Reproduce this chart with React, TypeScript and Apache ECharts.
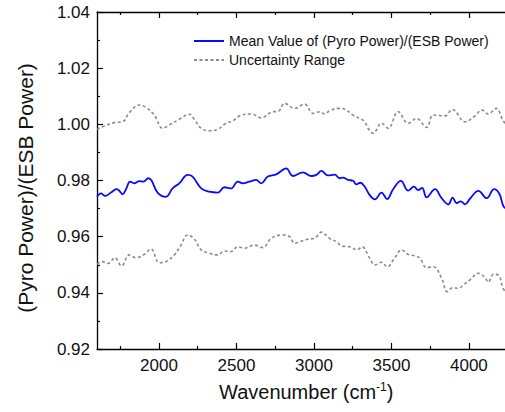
import React, { useEffect, useRef } from "react";
import * as echarts from "echarts";

const meanX = [1600, 1625, 1653, 1690, 1726, 1743, 1765, 1787, 1814, 1840, 1873, 1900, 1931, 1952, 1991, 2045, 2088, 2131, 2185, 2217, 2272, 2325, 2379, 2422, 2466, 2508, 2541, 2584, 2627, 2660, 2702, 2757, 2821, 2864, 2929, 2983, 3015, 3048, 3090, 3134, 3166, 3188, 3220, 3252, 3274, 3300, 3328, 3360, 3393, 3436, 3472, 3511, 3561, 3608, 3645, 3673, 3698, 3727, 3781, 3824, 3867, 3895, 3921, 3947, 3975, 4007, 4061, 4115, 4162, 4197, 4222, 4240];
const meanY = [0.9742, 0.9754, 0.9745, 0.9757, 0.9769, 0.9764, 0.9751, 0.9769, 0.9796, 0.979, 0.9798, 0.9796, 0.9808, 0.98, 0.9757, 0.9742, 0.9772, 0.979, 0.982, 0.9814, 0.9772, 0.976, 0.9757, 0.9776, 0.9772, 0.9796, 0.979, 0.9796, 0.9802, 0.979, 0.9814, 0.9822, 0.9843, 0.9816, 0.9829, 0.9816, 0.982, 0.9834, 0.9818, 0.9821, 0.9808, 0.981, 0.9802, 0.9799, 0.9786, 0.9792, 0.9778, 0.9748, 0.9733, 0.9757, 0.9734, 0.9769, 0.9799, 0.9764, 0.9778, 0.9766, 0.9774, 0.974, 0.9769, 0.9737, 0.9715, 0.9739, 0.9719, 0.9726, 0.9715, 0.9735, 0.9763, 0.9737, 0.9769, 0.9752, 0.9709, 0.9700];

const upperX = [1600, 1646, 1711, 1765, 1808, 1873, 1916, 1970, 2023, 2067, 2131, 2196, 2228, 2272, 2325, 2379, 2433, 2476, 2519, 2595, 2660, 2724, 2774, 2810, 2875, 2940, 2993, 3037, 3069, 3101, 3155, 3199, 3252, 3307, 3330, 3349, 3382, 3436, 3479, 3543, 3608, 3662, 3727, 3770, 3845, 3893, 3975, 4039, 4083, 4125, 4175, 4222, 4240];
const upperY = [0.9982, 0.9994, 1.0006, 1.0009, 1.0041, 1.0069, 1.006, 1.0033, 0.9986, 0.9998, 1.0018, 1.0036, 1.0018, 0.9986, 0.9977, 0.9982, 1.0004, 1.0012, 1.003, 1.0037, 1.0023, 1.0043, 1.0048, 1.0075, 1.0057, 1.0072, 1.0039, 1.0045, 1.0037, 1.0048, 1.0057, 1.0054, 1.0033, 1.0018, 1.0007, 0.9986, 0.9968, 1.0004, 0.9986, 1.0045, 1.0004, 1.0021, 0.9989, 1.0033, 1.003, 1.0053, 1.0009, 1.003, 1.0051, 1.0037, 1.0057, 1.0012, 1.0002];

const lowerX = [1600, 1635, 1672, 1715, 1758, 1808, 1851, 1905, 1948, 2002, 2045, 2099, 2142, 2185, 2228, 2272, 2325, 2379, 2422, 2466, 2508, 2552, 2616, 2670, 2724, 2799, 2843, 2875, 2907, 2961, 3004, 3048, 3101, 3145, 3177, 3231, 3278, 3310, 3360, 3393, 3436, 3472, 3522, 3565, 3608, 3651, 3684, 3727, 3770, 3824, 3860, 3895, 3931, 3964, 4007, 4061, 4104, 4125, 4158, 4190, 4222, 4240];
const lowerY = [0.9502, 0.9511, 0.9505, 0.9525, 0.9496, 0.9535, 0.9525, 0.9537, 0.9556, 0.9507, 0.9511, 0.9535, 0.957, 0.9606, 0.9592, 0.9553, 0.9541, 0.9535, 0.9549, 0.9547, 0.9564, 0.9559, 0.957, 0.9561, 0.9594, 0.9606, 0.96, 0.9576, 0.9582, 0.9591, 0.9594, 0.9616, 0.9594, 0.9582, 0.9567, 0.9564, 0.9553, 0.9564, 0.9523, 0.9499, 0.9509, 0.9493, 0.9525, 0.9553, 0.9537, 0.9532, 0.9523, 0.949, 0.9493, 0.9452, 0.9404, 0.9418, 0.9416, 0.9428, 0.9446, 0.947, 0.9454, 0.9438, 0.9466, 0.9463, 0.9414, 0.9405];

const xMajorTicks = [2000, 2500, 3000, 3500, 4000];
const xMinorTicks = [1750, 2250, 2750, 3250, 3750, 4250];

const meanName = "Mean Value of (Pyro Power)/(ESB Power)";
const rangeName = "Uncertainty Range";
const xTitle = "Wavenumber (cm{sup|-1})";
const yTitle = "(Pyro Power)/(ESB Power)";

const FONT = "'Liberation Sans', Arial, Helvetica, sans-serif";

const pairs = (xs: number[], ys: number[]) => xs.map((x, i) => [x, ys[i]]);

export default function App() {
  const ref = useRef<HTMLDivElement>(null);
  useEffect(() => {
    if (!ref.current) return;
    const chart = echarts.init(ref.current, null, { renderer: "svg" });
    const X_MIN = 1600;
    const X_MAX = 4300;
    const baseX = (pos: "bottom" | "top", ticks: number[], len: number, showLabels: boolean, showLine: boolean) => ({
      type: "value",
      position: pos,
      min: X_MIN,
      max: X_MAX,
      axisLine: { show: showLine, onZero: false, lineStyle: { color: "#000", width: 1.3 } },
      axisTick: { show: true, inside: true, length: len, customValues: ticks, lineStyle: { color: "#000", width: 1.2 } },
      axisLabel: showLabels
        ? {
            show: true,
            customValues: ticks,
            color: "#111",
            fontSize: 17,
            fontFamily: FONT,
            margin: 8,
            formatter: (v: number) => String(Math.round(v)),
          }
        : { show: false },
      splitLine: { show: false },
    });
    const option: any = {
      animation: false,
      grid: { left: 97, width: 418.4, top: 12, bottom: 63, containLabel: false },
      legend: {
        orient: "vertical",
        left: 193,
        top: 34,
        padding: 0,
        itemWidth: 30,
        itemHeight: 12,
        itemGap: 5,
        data: [meanName, rangeName],
        itemStyle: { opacity: 0 },
        textStyle: { fontSize: 14, fontFamily: FONT, color: "#111" },
      },
      xAxis: [
        {
          ...baseX("bottom", xMajorTicks, 6, true, true),
          name: xTitle,
          nameLocation: "middle",
          nameGap: 32,
          nameTextStyle: {
            fontSize: 20,
            fontFamily: FONT,
            color: "#111",
            rich: { sup: { fontSize: 12, verticalAlign: "top", padding: [0, 0, 10, 0], fontFamily: FONT, color: "#111" } },
          },
        },
        baseX("bottom", xMinorTicks, 3, false, false),
        baseX("top", xMajorTicks, 6, false, true),
        baseX("top", xMinorTicks, 3, false, false),
      ],
      yAxis: {
        type: "value",
        min: 0.92,
        max: 1.04,
        interval: 0.02,
        axisLine: { show: true, onZero: false, lineStyle: { color: "#000", width: 1.3 } },
        axisTick: { show: true, inside: true, length: 6, lineStyle: { color: "#000", width: 1.2 } },
        minorTick: { show: true, splitNumber: 2, length: 3, lineStyle: { color: "#000", width: 1.2 } },
        axisLabel: {
          color: "#111",
          fontSize: 17,
          fontFamily: FONT,
          margin: 7,
          formatter: (v: number) => v.toFixed(2),
        },
        splitLine: { show: false },
      },
      graphic: [
        {
          type: "text",
          x: 25,
          y: 188,
          rotation: Math.PI / 2,
          style: {
            text: yTitle,
            fontSize: 21,
            fontFamily: FONT,
            fill: "#111",
            align: "center",
            verticalAlign: "middle",
          },
        },
      ],
      series: [
        {
          name: meanName,
          type: "line",
          data: pairs(meanX, meanY),
          showSymbol: false,
          symbol: "none",
          smooth: 0.4,
          lineStyle: { color: "#0a0aff", width: 1.8 },
          itemStyle: { color: "#0a0aff" },
          z: 3,
        },
        {
          name: rangeName,
          type: "line",
          data: pairs(upperX, upperY),
          showSymbol: false,
          symbol: "none",
          smooth: 0.4,
          lineStyle: { color: "#8a8a8a", width: 1.6, type: [3, 2.5] },
          itemStyle: { color: "#8a8a8a" },
        },
        {
          name: rangeName,
          type: "line",
          data: pairs(lowerX, lowerY),
          showSymbol: false,
          symbol: "none",
          smooth: 0.4,
          lineStyle: { color: "#8a8a8a", width: 1.6, type: [3, 2.5] },
          itemStyle: { color: "#8a8a8a" },
        },
      ],
    };
    chart.setOption(option);
    return () => chart.dispose();
  }, []);
  return (
    <div
      style={{ position: "fixed", left: 0, top: 0, width: 505, height: 412, overflow: "hidden", background: "#fff" }}
    >
      <div ref={ref} style={{ width: 520, height: 412 }} />
    </div>
  );
}
